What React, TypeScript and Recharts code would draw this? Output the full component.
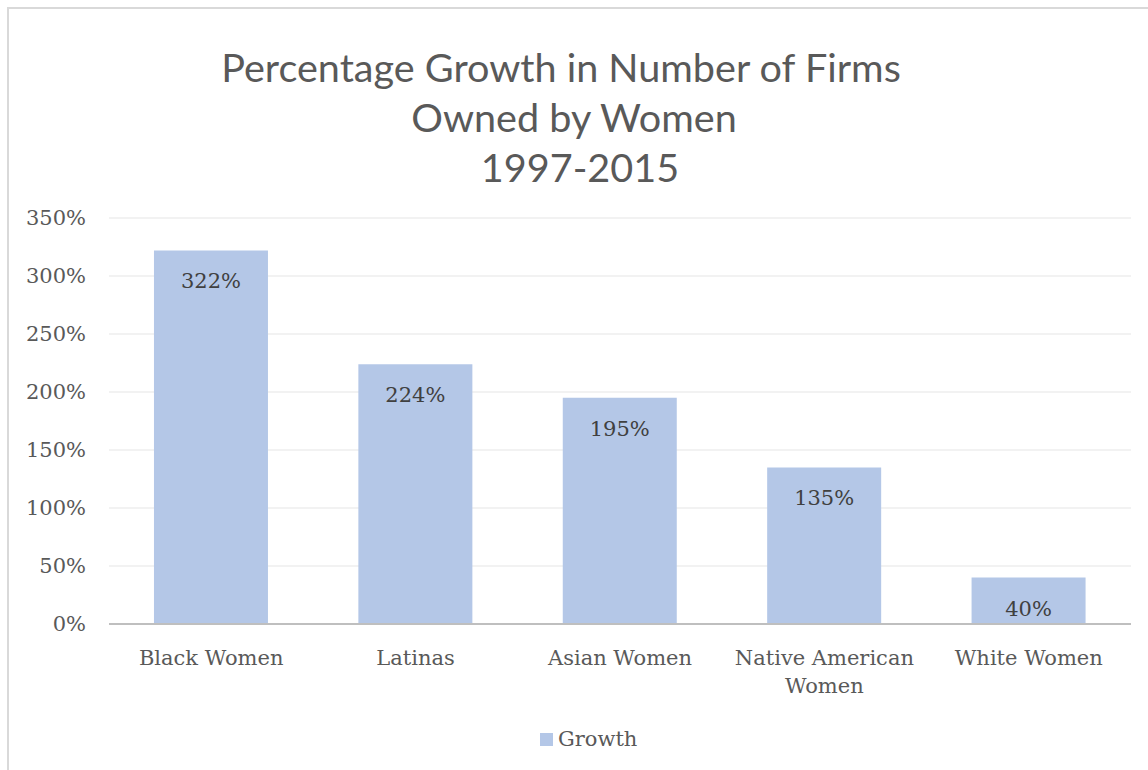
import { BarChart, Bar, XAxis, YAxis, CartesianGrid, LabelList, Text } from 'recharts'

const categories = ['Black Women', 'Latinas', 'Asian Women', 'Native American Women', 'White Women']
const growth = [322, 224, 195, 135, 40]
const yTicks = [0, 50, 100, 150, 200, 250, 300, 350]
const titleLines = ['Percentage Growth in Number of Firms', 'Owned by Women', '1997-2015']
const titleShift = [-13, 0, 6]

const data = categories.map((name, i) => ({ name, growth: growth[i] }))

const SERIF = '"DejaVu Serif", serif'
const SANS = 'Lato, "Open Sans", sans-serif'
const TEXT = '#595959'
const BAR = '#b4c7e7'

function CategoryTick(props: any) {
  const { x, y, payload } = props
  return (
    <Text
      x={x}
      y={y}
      width={200}
      textAnchor="middle"
      verticalAnchor="start"
      lineHeight={28}
      style={{ fontFamily: SERIF, fontSize: 21 }}
      fill={TEXT}
    >
      {payload.value}
    </Text>
  )
}

export default function App() {
  return (
    <div style={{ position: 'absolute', left: 0, top: 0, width: 1148, height: 770, background: '#fff', overflow: 'hidden' }}>
      <div style={{ position: 'absolute', left: 7, top: 7, width: 1170, height: 800, border: '2px solid #d9d9d9' }} />
      {titleLines.map((t, i) => (
        <div
          key={i}
          style={{
            position: 'absolute', left: titleShift[i], width: 1148, top: 42 + i * 50, height: 50, lineHeight: '50px',
            textAlign: 'center', fontFamily: SANS, fontSize: 39.6, color: TEXT,
          }}
        >
          {t}
        </div>
      ))}
      <div style={{ position: 'absolute', left: 0, top: 0 }}>
        <BarChart width={1148} height={770} data={data} margin={{ top: 218, right: 17, bottom: 116, left: 0 }} barCategoryGap="22%">
          <CartesianGrid vertical={false} stroke="#eeeeee" strokeWidth={1.5} />
          <YAxis
            width={109}
            domain={[0, 350]}
            ticks={yTicks}
            interval={0}
            axisLine={false}
            tickLine={false}
            tickSize={0}
            tickMargin={23}
            tickFormatter={(v) => `${v}%`}
            tick={{ fill: TEXT, fontFamily: SERIF, fontSize: 21 }}
          />
          <XAxis
            dataKey="name"
            height={30}
            interval={0}
            axisLine={{ stroke: '#bfbfbf', strokeWidth: 2 }}
            tickLine={false}
            tickSize={0}
            tickMargin={26}
            tick={<CategoryTick />}
          />
          <Bar dataKey="growth" name="Growth" fill={BAR} isAnimationActive={false}>
            <LabelList
              dataKey="growth"
              position="insideTop"
              offset={23}
              formatter={(v: any) => `${v}%`}
              style={{ fontFamily: SERIF, fontSize: 21, fill: '#404040' }}
            />
          </Bar>
        </BarChart>
      </div>
      <div
        style={{
          position: 'absolute', left: 540, top: 725, height: 28, display: 'flex', alignItems: 'center',
          fontFamily: SERIF, fontSize: 21, color: TEXT,
        }}
      >
        <span style={{ width: 13, height: 13, background: BAR, display: 'inline-block', marginRight: 5 }} />
        <span>Growth</span>
      </div>
    </div>
  )
}
